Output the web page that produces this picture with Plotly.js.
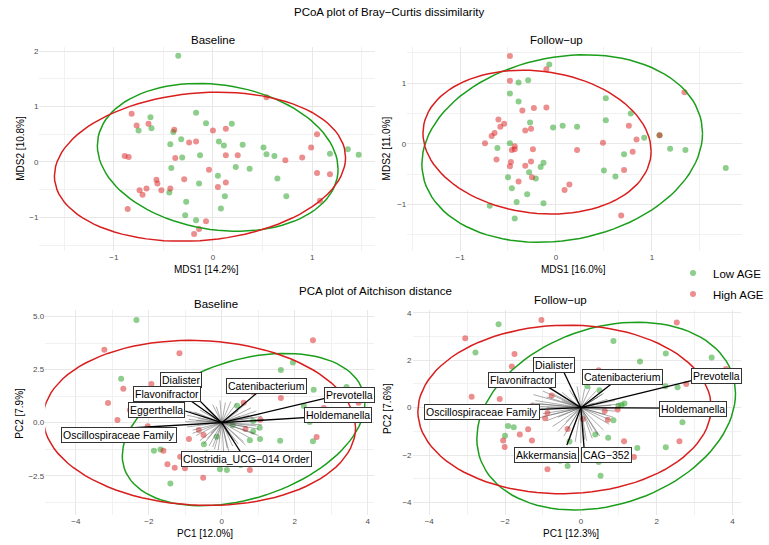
<!DOCTYPE html>
<html>
<head>
<meta charset="utf-8">
<script src="https://cdn.plot.ly/plotly-3.0.1.min.js"></script>
<style>
  html, body { margin: 0; padding: 0; background: #ffffff; }
  #chart { width: 769px; height: 545px; }
</style>
</head>
<body>
<div id="chart"></div>
<script>
// ---- PCoA (Bray-Curtis), Baseline ----
const pcoaBaseLowX = [-0.35, -0.17, -0.63, -0.07, 0.19, -0.62, -0.75, -0.40, -0.32, 0.06, 0.11, 0.30, -0.43, 0.51, 0.54, 0.62, 1.36, 1.47, 1.18, -0.13, -0.31, -0.42, 0.23, 0.37, 0.05, 0.65, -0.14, -0.44, 0.12, 0.74, -0.27, 0.08, -0.28, -0.17];
const pcoaBaseLowY = [1.92, 0.89, 0.81, 0.70, 0.69, 0.61, 0.57, 0.54, 0.41, 0.37, 0.30, 0.31, 0.32, 0.26, 0.14, 0.11, 0.23, 0.13, 0.15, 0.12, 0.08, -0.11, -0.09, -0.12, -0.25, -0.30, -0.39, -0.55, -0.62, -0.62, -0.72, -0.84, -0.96, -1.05];
const pcoaBaseHighX = [-0.82, -0.77, -0.65, -0.39, 0.00, 0.13, -0.24, -0.17, 0.54, 1.05, 0.99, -0.89, -0.85, -0.38, 0.13, 0.25, 0.90, 0.73, -0.04, 1.05, 1.18, -0.57, -0.29, -0.56, 0.13, 0.05, -0.67, -0.74, -0.43, -0.52, -0.71, 1.08, -0.86, -0.07, -0.14, -0.19];
const pcoaBaseHighY = [0.87, 0.66, 0.69, 0.58, 0.57, 0.60, 0.35, 0.37, 1.17, 0.50, 0.26, 0.11, 0.09, 0.07, 0.12, 0.12, 0.08, 0.03, -0.14, -0.20, -0.22, -0.32, -0.31, -0.39, -0.37, -0.45, -0.48, -0.51, -0.48, -0.51, -0.59, -0.70, -0.85, -1.07, -1.21, -1.30];

// ---- PCoA (Bray-Curtis), Follow-up ----
const pcoaFollowLowX = [-0.07, -0.29, -0.39, -0.48, -0.39, 0.52, 0.78, 0.52, -0.27, 0.07, 0.22, -0.03, 0.92, -0.48, -0.61, 1.19, 1.35, 0.71, 1.77, -0.13, -0.16, 0.50, -0.28, 0.62, -0.50, -0.21, -0.46, -0.30, -0.13, -0.41, -0.69, -0.43, 1.08];
const pcoaFollowLowY = [1.31, 1.05, 1.01, 0.83, 0.70, 0.75, 0.50, 0.39, 0.35, 0.30, 0.28, 0.27, 0.10, 0.01, -0.07, -0.08, -0.10, -0.17, -0.40, -0.31, -0.38, -0.44, -0.47, -0.54, -0.55, -0.57, -0.73, -0.83, -0.98, -0.96, -1.02, -1.23, 0.14];
const pcoaFollowHighX = [-0.48, -0.10, -0.48, -0.35, -0.23, -0.10, -0.60, -0.54, -0.58, -0.64, -0.67, -0.32, -0.26, 1.34, 0.76, 0.84, -0.74, 0.49, -0.43, -0.46, -0.43, -0.24, 0.22, 0.80, -0.62, -0.47, -0.26, -0.48, -0.32, 0.71, -0.25, -0.39, 0.14, 0.09, 0.68, 1.08];
const pcoaFollowHighY = [1.45, 1.23, 1.04, 0.55, 0.59, 0.60, 0.40, 0.33, 0.28, 0.18, 0.13, 0.22, 0.25, 0.85, 0.30, 0.07, 0.01, 0.02, -0.04, -0.10, -0.09, -0.09, -0.10, -0.13, -0.26, -0.30, -0.29, -0.37, -0.36, -0.43, -0.55, -0.62, -0.67, -0.76, -1.18, 0.14];

// ---- PCA (Aitchison), Baseline ----
const pcaBaseLowX = [-2.34, -2.76, 1.95, 1.62, 3.42, 2.52, 0.82, 0.42, 2.25, -1.60, 2.41, 0.86, 1.04, 1.05, 1.60, 2.50, 0.77, -0.14, -0.49, -0.42, -1.86, -1.68, 0.86, 0.52, -0.05, 0.14, -1.41, 0.30, 0.86];
const pcaBaseLowY = [4.84, 2.07, 2.84, 2.48, 1.68, 1.55, 1.84, 0.80, 0.79, 0.36, 0.03, 0.08, -0.24, -0.77, -0.85, -0.88, -0.83, -0.66, -1.02, -1.44, -1.32, -1.26, -1.49, -1.99, -2.20, -2.23, -2.87, -0.11, -0.42];
const pcaBaseHighX = [-3.22, -1.16, 2.50, -2.70, -1.93, -3.12, -2.52, -2.86, -1.23, -2.00, 0.87, 0.60, 1.62, 2.80, 3.75, 1.06, -2.03, -1.49, -0.63, -0.50, -0.90, 0.65, 2.60, -1.60, -1.14, -1.49, -1.29, -1.01, -0.51, 0.77, 1.72];
const pcaBaseHighY = [3.44, 3.27, 3.88, 1.60, 1.82, 0.93, 0.60, 0.13, 1.30, 1.49, 1.43, 0.94, 1.16, 0.69, 0.94, 0.14, -0.17, -0.49, -0.35, -0.58, -0.77, -0.30, -0.68, -1.32, -1.60, -1.96, -2.12, -2.15, -2.59, -2.23, -1.81];

// loadings (all taxa, grey) and highlighted taxa (black + label)
const pcaBaseLoadX = [-0.95, -0.9, -0.85, -0.8, -0.7, -0.6, -0.5, -0.35, -0.2, -0.1, 0.05, 0.15, 0.3, 0.45, 0.6, 0.75, 0.9, 1.0, 1.1, 1.15, 1.05, 0.95, 0.8, 0.6, 0.4, 0.25, 0.1, -0.05, -0.25, -0.45, -0.6, -0.75, -0.9, -1.0, 0.5, 0.7, -0.3, 0.2, 0.85, -0.65,
                      -0.55, -0.8, 0.65, 0.95, 1.1, -0.4, 0.35, -0.15, 0.45, -0.7, 0.75, 0.2, -0.25, 1.0, -0.95];
const pcaBaseLoadY = [0.35, 0.15, -0.1, -0.35, -0.6, -0.85, -1.0, -1.1, -1.25, -1.3, -1.35, -1.2, -1.1, -1.0, -0.9, -0.7, -0.5, -0.3, -0.1, 0.15, 0.4, 0.55, 0.7, 0.8, 0.9, 1.0, 0.95, 1.05, 0.85, 0.7, 0.6, 0.5, 0.55, 0.05, 0.3, -0.2, -0.5, -0.6, 0.25, 0.2,
                      0.3, -0.5, -1.05, -0.15, 0.3, -0.75, -0.85, 0.75, 0.55, 0.1, 0.35, -1.4, -1.15, -0.6, -0.2];
const pcaBaseTaxa = ['Dialister', 'Flavonifractor', 'Eggerthella', 'Oscillospiraceae Family', 'Catenibacterium', 'Prevotella', 'Holdemanella', 'Clostridia_UCG\u2212014 Order'];
const pcaBaseTaxaX = [-1.04, -0.95, -1.0, -2.4, 0.95, 3.0, 2.6, 0.56];
const pcaBaseTaxaY = [1.78, 1.15, 0.55, -0.24, 1.38, 1.21, 0.27, -1.5];
const pcaBaseLabelX = [-1.12, -1.49, -1.78, -2.83, 1.22, 3.51, 3.20, 0.68];
const pcaBaseLabelY = [2.03, 1.35, 0.61, -0.57, 1.74, 1.32, 0.36, -1.72];

// ---- PCA (Aitchison), Follow-up ----
const pcaFollowLowX = [-2.17, -2.78, 0.86, 1.56, 2.24, 3.45, 0.17, 0.49, 2.23, 2.55, 1.15, 0.99, 1.07, 2.68, 0.86, -1.92, -1.77, -2.00, 0.38, 0.72, -0.30, 1.49, 2.24, 0.48, -0.55, -0.35, 0.47, 0.52];
const pcaFollowLowY = [3.52, 2.33, 2.81, 1.95, 2.29, 2.12, 0.90, 0.73, 0.90, 0.86, 0.18, 0.08, 0.11, -0.62, -0.53, -0.77, -0.83, -1.18, -1.13, -1.27, -1.43, -1.70, -1.67, -1.81, -2.24, -2.46, -2.29, -2.87];
const pcaFollowHighX = [-1.04, -3.05, 2.53, -1.75, -1.82, 0.47, 0.55, 3.83, 2.78, -2.88, -2.14, -0.77, -1.29, -0.88, -0.94, 0.63, 0.97, 0.05, 0.71, -1.39, -1.61, -2.05, -2.01, -1.29, -0.35, 1.14, 2.60, 1.40, -0.88];
const pcaFollowHighY = [3.70, 2.93, 3.59, 2.26, 1.74, 1.58, 1.08, 1.63, 1.00, 0.46, 0.37, 0.51, 0.07, -0.23, -0.45, -0.14, -0.08, -0.48, -0.51, -0.91, -1.13, -1.39, -1.66, -1.39, -0.90, -1.42, -1.42, -2.08, -2.60];

const pcaFollowLoadX = [-1.25, -1.2, -1.1, -1.0, -0.9, -0.75, -0.6, -0.45, -0.3, -0.15, 0.0, 0.15, 0.3, 0.45, 0.6, 0.75, 0.85, 0.9, 0.8, 0.7, 0.55, 0.4, 0.25, 0.1, -0.1, -0.3, -0.5, -0.7, -0.9, -1.1, 0.65, -0.6, 0.35, -0.4, 0.9, -1.0,
                        -1.3, -0.8, 0.5, 0.95, 0.6, -0.35, 0.3, -0.2, 0.45, -0.9, 0.75, 0.1, -1.15, 1.0, -0.5];
const pcaFollowLoadY = [0.55, 0.3, 0.05, -0.25, -0.55, -0.8, -1.0, -1.2, -1.35, -1.45, -1.5, -1.4, -1.3, -1.15, -0.95, -0.7, -0.4, -0.15, 0.1, 0.35, 0.55, 0.7, 0.85, 0.8, 0.9, 0.75, 0.65, 0.55, 0.45, 0.15, -0.3, -0.4, 0.2, -0.6, 0.3, 0.7,
                        0.2, -0.3, -1.2, -0.05, 0.6, -0.9, -1.0, 0.6, 0.45, 0.0, -0.5, -1.35, -0.45, 0.15, 0.3];
const pcaFollowTaxa = ['Dialister', 'Flavonifractor', 'Catenibacterium', 'Prevotella', 'Oscillospiraceae Family', 'Holdemanella', 'Akkermansia', 'CAG\u2212352'];
const pcaFollowTaxaX = [-0.46, -0.94, 0.88, 3.0, -2.2, 2.4, -0.37, 0.09];
const pcaFollowTaxaY = [1.54, 0.95, 1.09, 1.17, -0.15, -0.02, -1.58, -1.79];
const pcaFollowLabelX = [-0.70, -1.56, 1.10, 3.58, -2.61, 2.96, -0.91, 0.67];
const pcaFollowLabelY = [1.79, 1.16, 1.29, 1.33, -0.20, -0.05, -2.0, -2.0];

const GREEN = '#1B9E1B';
const RED = '#D91E1E';
const FONT = 'Liberation Sans, Arial, sans-serif';

// robust t covariance (as MASS::cov.trob), used by stat_ellipse
function covTrob(xs, ys) {
    const n = xs.length, nu = 5, p = 2;
    let cx = xs.reduce((a, b) => a + b, 0) / n;
    let cy = ys.reduce((a, b) => a + b, 0) / n;
    let w = new Array(n).fill(1);
    let dx = [], dy = [];
    for (let iter = 0; iter < 25; iter++) {
        const w0 = w.slice();
        dx = xs.map(v => v - cx);
        dy = ys.map(v => v - cy);
        const sw = w.reduce((a, b) => a + b, 0);
        let sxx = 0, sxy = 0, syy = 0;
        for (let i = 0; i < n; i++) {
            sxx += w[i] * dx[i] * dx[i];
            sxy += w[i] * dx[i] * dy[i];
            syy += w[i] * dy[i] * dy[i];
        }
        sxx /= sw; sxy /= sw; syy /= sw;
        const det = sxx * syy - sxy * sxy;
        w = dx.map((d, i) => (nu + p) / (nu + (syy * d * d - 2 * sxy * d * dy[i] + sxx * dy[i] * dy[i]) / det));
        const sw2 = w.reduce((a, b) => a + b, 0);
        cx = xs.reduce((a, v, i) => a + w[i] * v, 0) / sw2;
        cy = ys.reduce((a, v, i) => a + w[i] * v, 0) / sw2;
        if (Math.max(...w.map((v, i) => Math.abs(v - w0[i]))) < 0.01) break;
    }
    let cxx = 0, cxy = 0, cyy = 0;
    for (let i = 0; i < n; i++) {
        cxx += w[i] * dx[i] * dx[i];
        cxy += w[i] * dx[i] * dy[i];
        cyy += w[i] * dy[i] * dy[i];
    }
    return { cx, cy, cxx: cxx / n, cxy: cxy / n, cyy: cyy / n };
}

// 95% t ellipse
function ellipse(xs, ys) {
    const v = covTrob(xs, ys);
    const m = xs.length - 1;
    const fq = (m / 2) * (Math.pow(0.05, -2 / m) - 1);
    const r = Math.sqrt(2 * fq);
    const a = Math.sqrt(v.cxx), b = v.cxy / a, c = Math.sqrt(v.cyy - b * b);
    const ex = [], ey = [];
    for (let k = 0; k <= 100; k++) {
        const t = 2 * Math.PI * k / 100;
        ex.push(v.cx + r * a * Math.cos(t));
        ey.push(v.cy + r * (b * Math.cos(t) + c * Math.sin(t)));
    }
    return { x: ex, y: ey };
}

function groupTraces(lowX, lowY, highX, highY, n, legend) {
    const ax = n === 1 ? '' : String(n);
    const eLow = ellipse(lowX, lowY);
    const eHigh = ellipse(highX, highY);
    return [
        { x: lowX, y: lowY, xaxis: 'x' + ax, yaxis: 'y' + ax, type: 'scatter', mode: 'markers', name: 'Low AGE',
          legendgroup: 'low', showlegend: legend, marker: { size: 6, color: 'rgba(27,158,27,0.5)' }, hoverinfo: 'skip' },
        { x: highX, y: highY, xaxis: 'x' + ax, yaxis: 'y' + ax, type: 'scatter', mode: 'markers', name: 'High AGE',
          legendgroup: 'high', showlegend: legend, marker: { size: 6, color: 'rgba(217,30,30,0.5)' }, hoverinfo: 'skip' },
        { x: eLow.x, y: eLow.y, xaxis: 'x' + ax, yaxis: 'y' + ax, type: 'scatter', mode: 'lines',
          showlegend: false, line: { color: GREEN, width: 1.5 }, hoverinfo: 'skip' },
        { x: eHigh.x, y: eHigh.y, xaxis: 'x' + ax, yaxis: 'y' + ax, type: 'scatter', mode: 'lines',
          showlegend: false, line: { color: RED, width: 1.5 }, hoverinfo: 'skip' }
    ];
}

function arrowTrace(ex, ey, n, color, width) {
    const x = [], y = [];
    ex.forEach((v, i) => { x.push(0, v, null); y.push(0, ey[i], null); });
    return { x, y, xaxis: 'x' + n, yaxis: 'y' + n, type: 'scatter', mode: 'lines', showlegend: false,
             line: { color, width }, hoverinfo: 'skip' };
}

const data = [
    ...groupTraces(pcoaBaseLowX, pcoaBaseLowY, pcoaBaseHighX, pcoaBaseHighY, 1, true),
    ...groupTraces(pcoaFollowLowX, pcoaFollowLowY, pcoaFollowHighX, pcoaFollowHighY, 2, false),
    ...groupTraces(pcaBaseLowX, pcaBaseLowY, pcaBaseHighX, pcaBaseHighY, 3, false),
    ...groupTraces(pcaFollowLowX, pcaFollowLowY, pcaFollowHighX, pcaFollowHighY, 4, false),
    arrowTrace(pcaBaseLoadX, pcaBaseLoadY, 3, 'rgba(70,70,70,0.45)', 1),
    arrowTrace(pcaFollowLoadX, pcaFollowLoadY, 4, 'rgba(70,70,70,0.45)', 1),
    arrowTrace(pcaBaseTaxaX, pcaBaseTaxaY, 3, '#000000', 1.3),
    arrowTrace(pcaFollowTaxaX, pcaFollowTaxaY, 4, '#000000', 1.3)
];

const W = 769, H = 545;
function axis(px0, px1, range, dtick, minor, anchor, horizontal, fmt) {
    const dom = horizontal ? [px0 / W, px1 / W] : [1 - px1 / H, 1 - px0 / H];
    return {
        domain: dom, range, dtick, tick0: 0, anchor,
        showline: false, zeroline: false, ticks: '',
        gridcolor: '#e8e8e8', gridwidth: 1,
        minor: { dtick: minor, tick0: 0, showgrid: true, gridcolor: '#f1f1f1', gridwidth: 1 },
        tickfont: { family: FONT, size: 8, color: '#4d4d4d' },
        tickformat: fmt || '', fixedrange: true
    };
}

function text(str, px, py, size, extra) {
    return Object.assign({ text: str, x: px / W, y: 1 - py / H, xref: 'paper', yref: 'paper',
        showarrow: false, xanchor: 'center', yanchor: 'middle', font: { family: FONT, size, color: '#000000' } }, extra || {});
}

function labels(names, lx, ly, n) {
    return names.map((s, i) => ({
        text: s, x: lx[i], y: ly[i], xref: 'x' + n, yref: 'y' + n, showarrow: false,
        bgcolor: '#ffffff', bordercolor: '#333333', borderwidth: 1, borderpad: 1,
        font: { family: FONT, size: 10.5, color: '#000000' }
    }));
}

const annotations = [
    text('PCoA plot of Bray\u2212Curtis dissimilarity', 394.5, 12, 11.5),
    text('PCA plot of Aitchison distance', 381, 291, 11.5),
    text('Baseline', 216, 40, 11.5),
    text('Follow\u2212up', 565, 40, 11.5),
    text('Baseline', 219, 304, 11.5),
    text('Follow\u2212up', 568.5, 300, 11.5),
    text('MDS1 [14.2%]', 210, 269, 10),
    text('MDS1 [16.0%]', 582, 269, 10),
    text('PC1 [12.0%]', 207.5, 533, 10),
    text('PC1 [12.3%]', 579, 533, 10),
    text('MDS2 [10.8%]', 20, 148, 10, { textangle: -90 }),
    text('MDS2 [11.0%]', 392, 148, 10, { textangle: -90 }),
    text('PC2 [7.9%]', 19, 413, 10, { textangle: -90 }),
    text('PC2 [7.6%]', 393, 408.5, 10, { textangle: -90 }),
    ...labels(pcaBaseTaxa, pcaBaseLabelX, pcaBaseLabelY, 3),
    ...labels(pcaFollowTaxa, pcaFollowLabelX, pcaFollowLabelY, 4)
];

const layout = {
    width: W, height: H,
    margin: { l: 0, r: 0, t: 0, b: 0 },
    paper_bgcolor: '#ffffff', plot_bgcolor: '#ffffff',
    font: { family: FONT },
    xaxis: axis(40, 380, [-1.75, 1.63], 1, 0.5, 'y', true),
    yaxis: axis(46.8, 250.6, [-1.6, 2.08], 1, 0.5, 'x', false),
    xaxis2: axis(413.2, 752.8, [-1.55, 1.94], 1, 0.5, 'y2', true),
    yaxis2: axis(46.8, 250.6, [-1.76, 1.60], 1, 0.5, 'x2', false),
    xaxis3: axis(45.9, 379.3, [-4.84, 4.17], 2, 1, 'y3', true),
    yaxis3: axis(310.4, 515, [-4.35, 5.29], 2.5, 1.25, 'x3', false, '.1f'),
    xaxis4: axis(418.5, 751.6, [-4.44, 4.22], 2, 1, 'y4', true),
    yaxis4: axis(310, 514.8, [-4.52, 4.12], 2, 1, 'x4', false),
    showlegend: true,
    legend: {
        x: 683 / W, y: 1 - 283.5 / H, xanchor: 'left', yanchor: 'middle',
        traceorder: 'grouped', tracegroupgap: 2, itemwidth: 30,
        font: { family: FONT, size: 11.5, color: '#000000' }, bgcolor: 'rgba(0,0,0,0)'
    },
    annotations
};

Plotly.newPlot('chart', data, layout, { displayModeBar: false, staticPlot: true });
</script>
</body>
</html>
